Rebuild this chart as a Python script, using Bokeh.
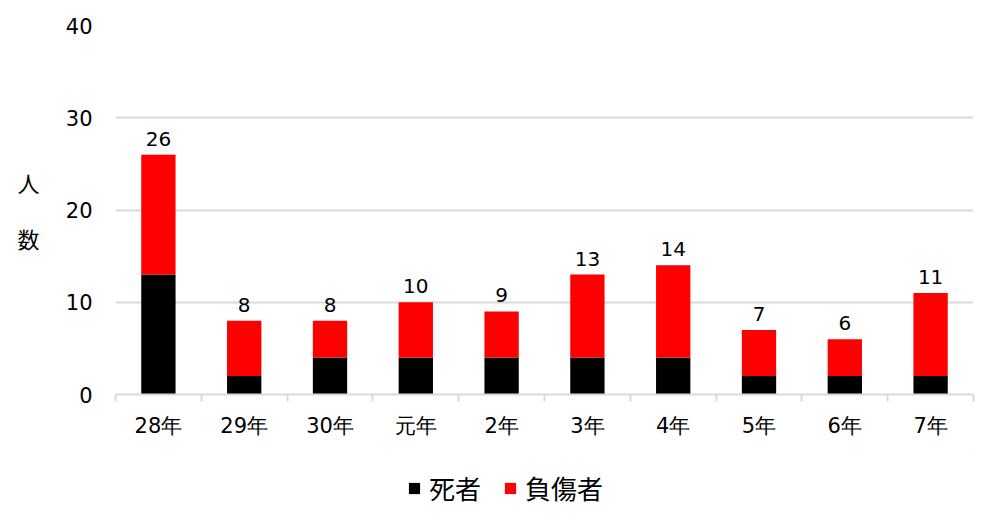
from bokeh.plotting import figure
from bokeh.models import ColumnDataSource, FixedTicker, Range1d, Legend, LinearAxis
from bokeh.layouts import column
from bokeh.core.properties import value
from bokeh.embed import file_html
from bokeh.resources import INLINE

# ─── data ───────────────────────────────────────────────────────────────────
years   = ["28年", "29年", "30年", "元年", "2年", "3年", "4年", "5年", "6年", "7年"]
deaths  = [13, 2, 4, 4, 4, 4, 4, 2, 2, 2]
injured = [13, 6, 4, 6, 5, 9, 10, 5, 4, 9]
totals  = [d + i for d, i in zip(deaths, injured)]
series  = ["死者", "負傷者"]
colors  = ["#000000", "#ff0000"]
y_title = {23: "人", 17: "数"}   # stacked characters of the y title

NUM = "DejaVu Sans"
CJK = "Noto Sans CJK JP"

xs = list(range(len(years)))
src = ColumnDataSource(dict(x=xs, 死者=deaths, 負傷者=injured,
                            total=totals, label=[str(t) for t in totals]))

# ─── main chart ─────────────────────────────────────────────────────────────
p = figure(width=992, height=450, output_backend="svg", toolbar_location=None,
           x_range=Range1d(-0.5, len(years) - 0.5), y_range=Range1d(0, 40),
           min_border_left=115, min_border_right=19, min_border_top=25,
           min_border_bottom=56)
p.outline_line_color = None

p.vbar_stack(series, x="x", width=0.40, source=src, color=colors, line_color=None)

p.text("x", "total", text="label", source=src, text_align="center",
       text_baseline="alphabetic", y_offset=-16, text_font=value(NUM),
       text_font_size="20px", text_color="#000000")

# x axis: labels at centres, small ticks at category boundaries
p.xaxis.ticker = FixedTicker(ticks=xs,
                             minor_ticks=[i - 0.5 for i in range(len(years) + 1)])
p.xaxis.major_label_overrides = {i: y for i, y in enumerate(years)}
p.xaxis.major_tick_line_color = None
p.xaxis.minor_tick_line_color = "#d9d9d9"
p.xaxis.minor_tick_line_width = 2
p.xaxis.minor_tick_out = 7
p.xaxis.minor_tick_in = 0
p.xaxis.axis_line_color = "#d9d9d9"
p.xaxis.axis_line_width = 2
p.xaxis.major_label_standoff = 12
p.xaxis.major_label_text_font = NUM
p.xaxis.major_label_text_font_size = "21px"
p.xaxis.major_label_text_color = "#000000"

p.yaxis.ticker = FixedTicker(ticks=[0, 10, 20, 30, 40])
p.yaxis.axis_line_color = None
p.yaxis.major_tick_line_color = None
p.yaxis.minor_tick_line_color = None
p.yaxis.major_label_standoff = 17
p.yaxis.major_label_text_font = NUM
p.yaxis.major_label_text_font_size = "21px"
p.yaxis.major_label_text_color = "#000000"

# outer left axis carrying the stacked y title
title_axis = LinearAxis(ticker=FixedTicker(ticks=list(y_title.keys())),
                        major_label_overrides=y_title,
                        axis_line_color=None, major_tick_line_color=None,
                        minor_tick_line_color=None, major_label_standoff=17,
                        major_label_text_font=CJK,
                        major_label_text_font_size="22px",
                        major_label_text_color="#000000")
p.add_layout(title_axis, "left")

p.xgrid.grid_line_color = None
p.ygrid.grid_line_color = "#d9d9d9"
p.ygrid.grid_line_width = 2

# ─── legend strip ───────────────────────────────────────────────────────────
leg = figure(width=992, height=68, output_backend="svg", toolbar_location=None,
             x_range=Range1d(0, 1), y_range=Range1d(0, 1), min_border=0,
             x_axis_location=None, y_axis_location=None)
leg.outline_line_color = None
leg.grid.visible = False
# swatch renderers sit far outside the visible range; only their legend glyphs show
swatches = [leg.vbar(x=[50], bottom=[50], top=[51], width=0.1, color=c,
                     line_color=None)
            for c in colors]

legend = Legend(items=[(s, [r]) for s, r in zip(series, swatches)],
                orientation="horizontal", location=(292, 12),
                label_text_font=CJK, label_text_font_size="26px",
                label_text_color="#000000",
                glyph_width=14, glyph_height=14, label_standoff=8,
                spacing=22, padding=0, margin=0,
                border_line_color=None, background_fill_alpha=0)
leg.add_layout(legend, "center")

open("out.html", "w").write(file_html(column(p, leg), INLINE))
